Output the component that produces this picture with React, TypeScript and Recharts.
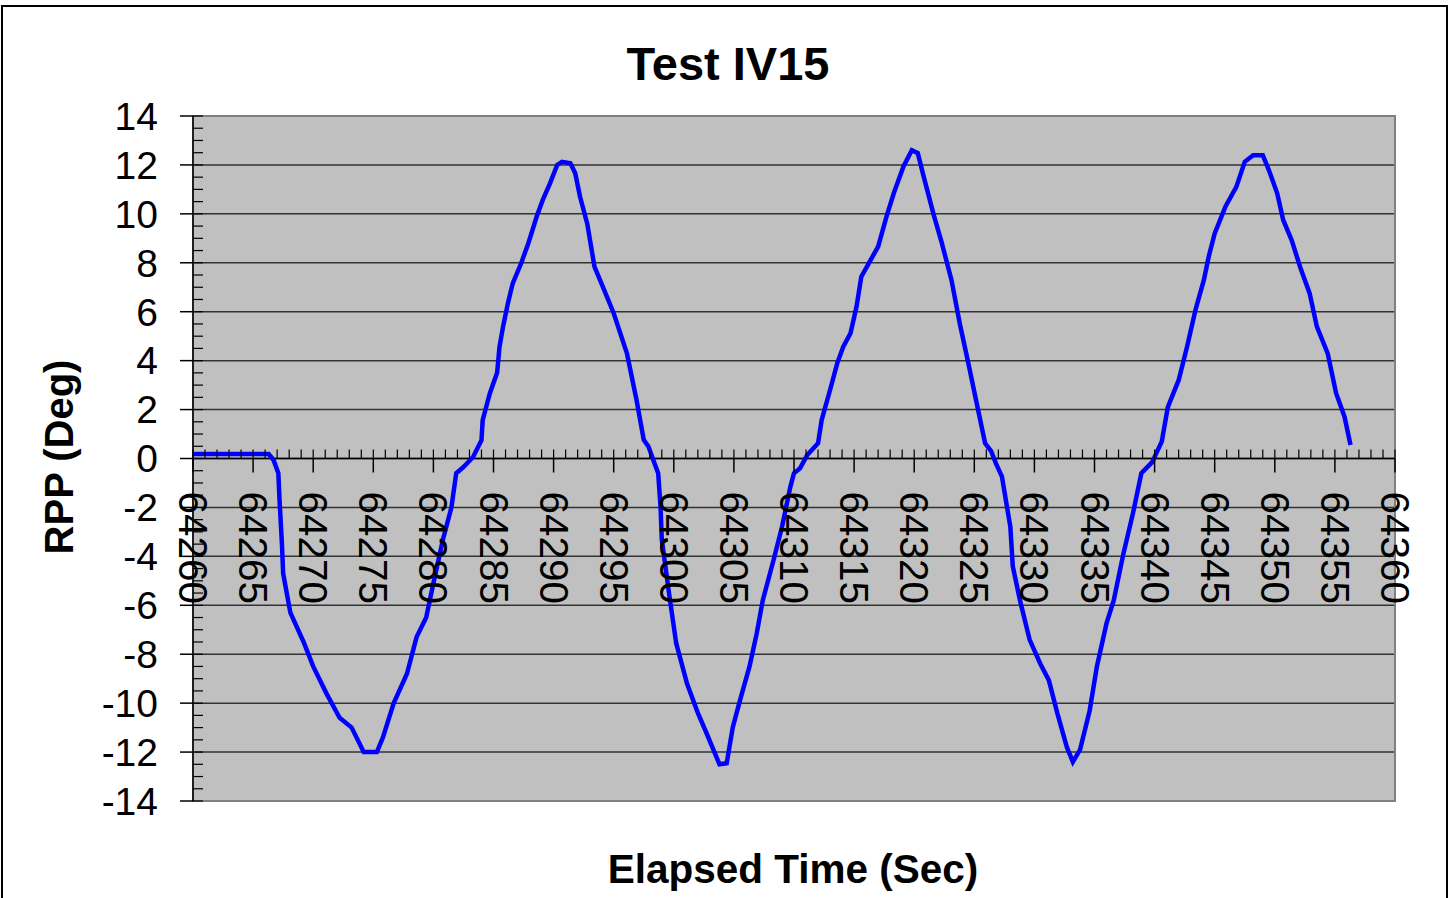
import React from 'react';
import { LineChart, Line, XAxis, YAxis, CartesianGrid, ReferenceLine, ReferenceDot, ReferenceArea } from 'recharts';

// elapsed time (sec) and RPP (deg)
const elapsedTime = [
    64260.0, 64262.0, 64264.0, 64266.3, 64266.7, 64267.1, 64267.2, 64267.4, 64267.5, 64268.1,
    64269.2, 64270.0, 64271.1, 64272.2, 64273.2, 64274.2, 64275.3, 64275.8, 64276.7, 64277.8,
    64278.6, 64279.4, 64280.0, 64280.8, 64281.5, 64281.9, 64282.5, 64283.3, 64284.0, 64284.1,
    64284.7, 64285.3, 64285.5, 64285.8, 64286.2, 64286.6, 64287.3, 64287.9, 64288.6, 64289.1,
    64289.7, 64290.3, 64290.7, 64291.4, 64291.8, 64292.2, 64292.8, 64293.4, 64294.1, 64295.0,
    64296.1, 64296.9, 64297.5, 64297.9, 64298.4, 64298.7, 64298.9, 64299.0, 64299.6, 64300.2,
    64301.1, 64302.0, 64302.7, 64303.8, 64304.4, 64304.9, 64305.5, 64306.3, 64306.9, 64307.4,
    64308.3, 64309.0, 64309.7, 64310.0, 64310.5, 64311.1, 64312.0, 64312.3, 64313.0, 64313.6,
    64314.1, 64314.7, 64315.2, 64315.6, 64316.3, 64317.0, 64317.7, 64318.3, 64319.1, 64319.8,
    64320.3, 64320.8, 64321.6, 64322.3, 64323.1, 64323.8, 64324.5, 64325.2, 64325.9, 64326.4,
    64326.8, 64327.3, 64328.0, 64328.2, 64328.8, 64329.6, 64330.5, 64331.2, 64331.9, 64332.7,
    64333.2, 64333.8, 64334.6, 64335.2, 64336.0, 64336.6, 64337.4, 64338.2, 64338.9, 64339.8,
    64340.6, 64341.1, 64342.0, 64342.7, 64343.4, 64344.1, 64344.5, 64345.0, 64345.9, 64346.8,
    64347.5, 64348.2, 64349.0, 64349.5, 64350.2, 64350.7, 64351.4, 64352.1, 64352.9, 64353.5,
    64354.4, 64355.1, 64355.8, 64356.3,
];

const rpp = [
    0.18, 0.18, 0.18, 0.18, -0.06, -0.6, -1.7, -3.5, -4.7, -6.3,
    -7.5, -8.5, -9.6, -10.6, -11.0, -12.0, -12.0, -11.4, -10.0, -8.8,
    -7.3, -6.5, -5.1, -3.3, -2.0, -0.6, -0.35, 0.06, 0.75, 1.57,
    2.67, 3.5, 4.57, 5.4, 6.35, 7.16, 7.98, 8.8, 9.9, 10.57,
    11.25, 12.0, 12.13, 12.07, 11.66, 10.7, 9.6, 7.84, 7.02, 5.94,
    4.3, 2.39, 0.76, 0.48, -0.2, -0.6, -2.0, -3.3, -5.5, -7.55,
    -9.2, -10.4, -11.2, -12.5, -12.46, -11.0, -9.9, -8.5, -7.15, -5.8,
    -4.15, -2.8, -1.15, -0.6, -0.4, 0.14, 0.62, 1.57, 2.8, 3.9,
    4.57, 5.12, 6.2, 7.43, 8.05, 8.66, 9.9, 10.84, 11.93, 12.6,
    12.48, 11.5, 10.0, 8.8, 7.3, 5.5, 3.9, 2.26, 0.62, 0.3,
    -0.2, -0.74, -2.8, -4.4, -5.8, -7.4, -8.4, -9.06, -10.4, -11.8,
    -12.4, -11.9, -10.3, -8.5, -6.74, -5.8, -3.9, -2.24, -0.6, -0.15,
    0.7, 2.1, 3.2, 4.57, 6.07, 7.3, 8.25, 9.2, 10.3, 11.1,
    12.13, 12.4, 12.4, 11.8, 10.84, 9.75, 8.93, 7.84, 6.75, 5.39,
    4.3, 2.67, 1.71, 0.55,
];

const yTicks = [-14, -12, -10, -8, -6, -4, -2, 0, 2, 4, 6, 8, 10, 12, 14];
const xMajorTicks = [
    64260, 64265, 64270, 64275, 64280, 64285, 64290, 64295, 64300, 64305, 64310,
    64315, 64320, 64325, 64330, 64335, 64340, 64345, 64350, 64355, 64360,
];
const xMinorTicks = Array.from({ length: 101 }, (_, i) => 64260 + i);
const yMinorTicks = Array.from({ length: 57 }, (_, i) => -14 + i * 0.5);

const data = elapsedTime.map((t, i) => ({ t, rpp: rpp[i] }));

const FONT = "'Liberation Sans', Arial, sans-serif";

const App = () => {
    return (
        <div style={{ position: 'absolute', left: 0, top: 0, width: 1456, height: 898, background: '#fff' }}>
            <LineChart
                width={1456}
                height={898}
                data={data}
                margin={{ top: 116, right: 61, bottom: 97, left: 0 }}
            >
                <CartesianGrid vertical={false} fill="#C0C0C0" stroke="#333" strokeWidth={1.5} />
                <ReferenceArea x1={64260} x2={64360} y1={-14} y2={14} fill="none" stroke="#808080" strokeWidth={2} ifOverflow="visible" />
                <XAxis dataKey="t" type="number" domain={[64260, 64360]} hide />
                <YAxis
                    type="number"
                    domain={[-14, 14]}
                    ticks={yTicks}
                    interval={0}
                    width={193}
                    tickSize={13}
                    tickMargin={22}
                    axisLine={{ stroke: '#000', strokeWidth: 1.5 }}
                    tickLine={{ stroke: '#000', strokeWidth: 1.5 }}
                    tick={{ fill: '#000', fontSize: 39, fontFamily: FONT }}
                />
                <ReferenceLine y={0} stroke="#000" strokeWidth={1.5} />
                {yMinorTicks.map(v => (
                    <ReferenceDot
                        key={'ym' + v}
                        x={64260}
                        y={v}
                        ifOverflow="visible"
                        shape={(p: any) => <line x1={p.cx} y1={p.cy} x2={p.cx + 10} y2={p.cy} stroke="#000" strokeWidth={1.2} />}
                    />
                ))}
                {xMinorTicks.map(t => (
                    <ReferenceDot
                        key={'xm' + t}
                        x={t}
                        y={0}
                        ifOverflow="visible"
                        shape={(p: any) => <line x1={p.cx} y1={p.cy - 9} x2={p.cx} y2={p.cy} stroke="#000" strokeWidth={1.2} />}
                    />
                ))}
                {xMajorTicks.map(t => (
                    <ReferenceDot
                        key={'xM' + t}
                        x={t}
                        y={0}
                        ifOverflow="visible"
                        shape={(p: any) => (
                            <g>
                                <line x1={p.cx} y1={p.cy} x2={p.cx} y2={p.cy + 14} stroke="#000" strokeWidth={1.5} />
                                <text
                                    x={p.cx - 14}
                                    y={p.cy + 33}
                                    transform={`rotate(90, ${p.cx - 14}, ${p.cy + 33})`}
                                    fontSize={40.5}
                                    fontFamily={FONT}
                                    fill="#000"
                                    textAnchor="start"
                                >
                                    {t}
                                </text>
                            </g>
                        )}
                    />
                ))}
                <Line
                    type="linear"
                    dataKey="rpp"
                    stroke="#0000FF"
                    strokeWidth={4.5}
                    dot={false}
                    isAnimationActive={false}
                />
            </LineChart>
            <svg width={1456} height={898} style={{ position: 'absolute', left: 0, top: 0, pointerEvents: 'none' }}>
                <rect x={2} y={6} width={1445} height={900} fill="none" stroke="#000" strokeWidth={2} />
                <text x={728} y={80} textAnchor="middle" fontSize={47} fontWeight="bold" fontFamily={FONT}>Test IV15</text>
                <text x={793} y={883} textAnchor="middle" fontSize={40.5} fontWeight="bold" fontFamily={FONT}>Elapsed Time (Sec)</text>
                <text x={73} y={457} textAnchor="middle" fontSize={40} fontWeight="bold" fontFamily={FONT} transform="rotate(-90, 73, 457)">RPP (Deg)</text>
            </svg>
        </div>
    );
};

export default App;
